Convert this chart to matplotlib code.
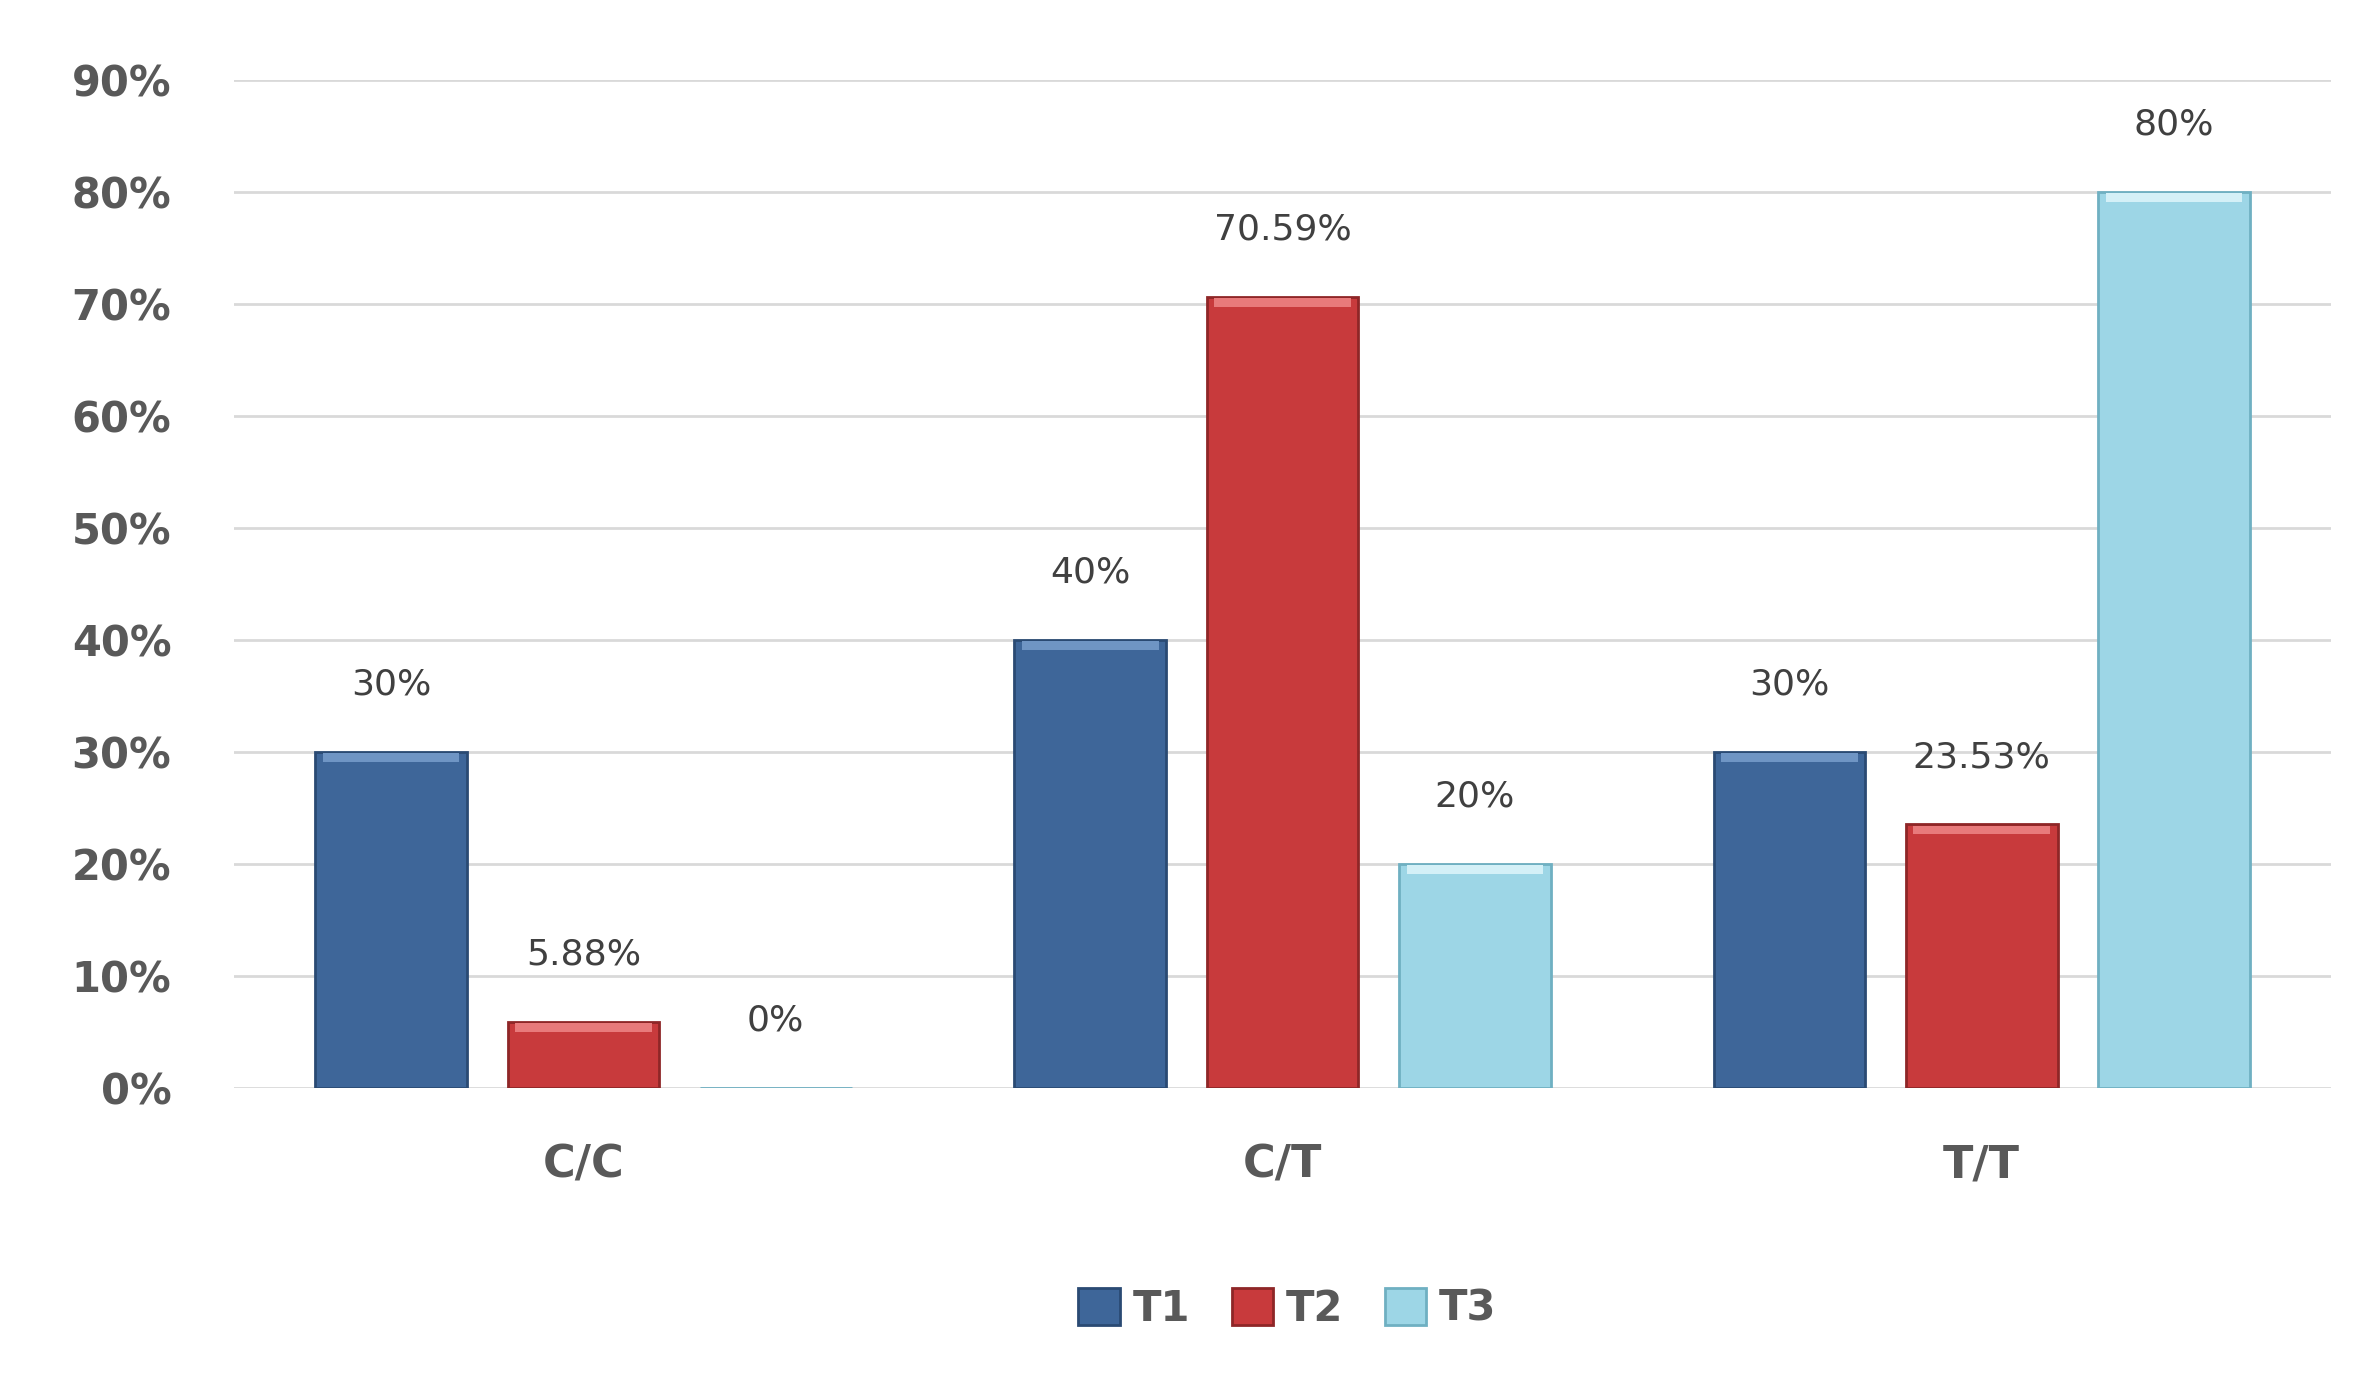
import numpy as np
import matplotlib.pyplot as plt

categories = ['C/C', 'C/T', 'T/T']
series = ['T1', 'T2', 'T3']
values = {
    'T1': [30, 40, 30],
    'T2': [5.88, 70.59, 23.53],
    'T3': [0, 20, 80],
}
labels = {
    'T1': ['30%', '40%', '30%'],
    'T2': ['5.88%', '70.59%', '23.53%'],
    'T3': ['0%', '20%', '80%'],
}
colors = {'T1': '#3e6699', 'T2': '#c83a3c', 'T3': '#9dd6e6'}
edges = {'T1': '#2a4a73', 'T2': '#8e2627', 'T3': '#6fb0c2'}
tops = {'T1': '#6f95c4', 'T2': '#e87a7b', 'T3': '#d4f0f7'}

fig = plt.figure(figsize=(23.62, 13.95), dpi=100)
ax = fig.add_axes([0.099, 0.22, 0.888, 0.723])

x = np.arange(len(categories))
w = 0.217
off = 0.275
for i, s in enumerate(series):
    xs = x + (i - 1) * off
    ax.bar(xs, values[s], w, color=colors[s], edgecolor=edges[s], linewidth=2, zorder=3, label=s)
    # light bevel strip on top
    ax.bar(xs, [0.8 if v > 0 else 0 for v in values[s]], w * 0.9,
           bottom=[v - 0.9 for v in values[s]], color=tops[s], linewidth=0, zorder=4)
    for xi, v, lab in zip(xs, values[s], labels[s]):
        ax.text(xi, v + 6, lab, ha='center', va='center', fontsize=26, color='#404040', zorder=5)

ax.set_xlim(-0.5, 2.5)
ax.set_ylim(0, 90)
ax.set_yticks(range(0, 91, 10))
ax.set_yticklabels([f'{t}%' for t in range(0, 91, 10)], fontsize=30, fontweight='bold', color='#595959')
ax.set_xticks(x)
ax.set_xticklabels(categories, fontsize=32, fontweight='bold', color='#595959')
ax.tick_params(length=0, pad=45, axis='y')
ax.tick_params(axis='x', length=0, pad=40)
ax.grid(axis='y', color='#d9d9d9', linewidth=2, zorder=0)
for sp in ax.spines.values():
    sp.set_visible(False)

leg = fig.legend(loc='lower center', bbox_to_anchor=(0.545, 0.02), ncol=3, frameon=False,
                 fontsize=30, handlelength=1.0, handleheight=1.0, handletextpad=0.3, columnspacing=1.0)
for t in leg.get_texts():
    t.set_color('#595959')
    t.set_fontweight('bold')

fig.savefig('out.png', dpi=100, facecolor='white')
